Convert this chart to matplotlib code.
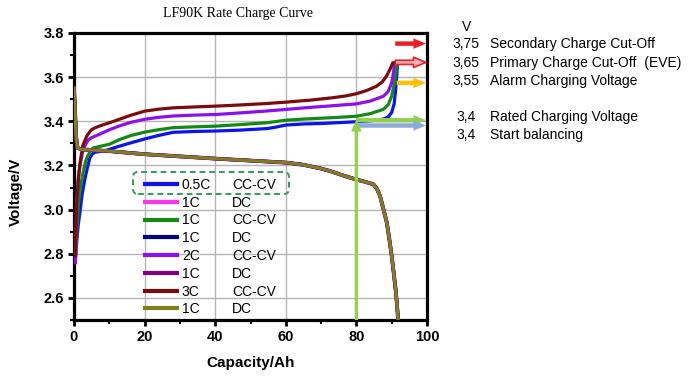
import matplotlib
matplotlib.use("Agg")
import matplotlib.pyplot as plt
from matplotlib.patches import FancyBboxPatch
from matplotlib.transforms import IdentityTransform

plt.rcParams['font.family'] = ['Liberation Sans', 'DejaVu Sans']

# charge curves (CC-CV)
cap_05c = [0.5, 0.8, 1.2, 1.7, 2.3, 3.1, 3.8, 4.5, 5.2, 5.9, 7, 9, 11, 13, 16, 20, 24, 28, 34, 40,
           47, 54.6, 57, 60, 65, 70, 75, 80, 84, 87.6, 89, 90, 90.7, 91.1, 91.4, 91.7, 92.2]
v_05c = [2.79, 2.86, 2.93, 2.99, 3.07, 3.14, 3.19, 3.235, 3.252, 3.26, 3.262, 3.268, 3.278, 3.288,
         3.302, 3.32, 3.336, 3.35, 3.354, 3.356, 3.36, 3.367, 3.373, 3.383, 3.388, 3.39, 3.394,
         3.398, 3.402, 3.41, 3.42, 3.44, 3.48, 3.54, 3.6, 3.665, 3.665]

cap_1c = [0.5, 0.8, 1.2, 1.8, 2.6, 3.3, 4.1, 4.8, 5.5, 7, 10, 13, 16, 20, 24, 28, 34, 40, 47, 55,
          60, 65, 70, 75, 80, 84, 87.6, 89, 90, 90.6, 91, 91.3, 91.6, 92.2]
v_1c = [2.8, 2.9, 3.02, 3.1, 3.17, 3.22, 3.25, 3.27, 3.28, 3.285, 3.296, 3.318, 3.335, 3.351, 3.362,
        3.371, 3.375, 3.378, 3.385, 3.394, 3.405, 3.41, 3.414, 3.418, 3.423, 3.435, 3.454, 3.475,
        3.514, 3.56, 3.6, 3.635, 3.665, 3.665]

cap_2c = [0.4, 0.75, 1.2, 1.7, 2.4, 3.1, 4.0, 5.0, 7, 10.2, 13, 16, 20, 24, 28, 34, 40.4, 47, 54,
          60.2, 66, 72, 80, 84, 87.7, 89, 90, 90.5, 90.8, 91.5]
v_2c = [2.76, 3.05, 3.14, 3.2, 3.26, 3.29, 3.315, 3.326, 3.34, 3.363, 3.38, 3.395, 3.409, 3.418,
        3.424, 3.428, 3.431, 3.438, 3.446, 3.454, 3.462, 3.469, 3.479, 3.492, 3.514, 3.535, 3.574,
        3.62, 3.665, 3.665]

cap_3c = [0.3, 0.75, 1.2, 1.7, 2.5, 3.6, 4.8, 6.0, 8, 10.2, 13, 16, 20, 24, 28.1, 34, 40.4, 47, 54,
          60.2, 67, 73.4, 77, 80, 83, 85.7, 87.3, 88.5, 89.5, 90.3, 91.2]
v_3c = [2.79, 3.02, 3.13, 3.21, 3.29, 3.333, 3.36, 3.371, 3.383, 3.394, 3.41, 3.427, 3.446, 3.455,
        3.461, 3.465, 3.469, 3.474, 3.48, 3.487, 3.496, 3.507, 3.515, 3.525, 3.54, 3.559, 3.578,
        3.604, 3.635, 3.665, 3.665]

# discharge (1C DC), all DC curves overlap
cap_dc = [0, 0.3, 0.6, 1.0, 2, 5, 10, 15, 20, 30, 40, 50, 60, 65, 70, 72.5, 76, 79.6, 82, 84.8,
          85.8, 86.7, 87.7, 88.6, 89.3, 90, 90.6, 91.1, 91.5, 91.8]
v_dc = [3.55, 3.45, 3.33, 3.28, 3.273, 3.27, 3.265, 3.258, 3.251, 3.241, 3.231, 3.222, 3.213,
        3.203, 3.186, 3.175, 3.156, 3.138, 3.128, 3.115, 3.095, 3.062, 3.0, 2.942, 2.87, 2.79,
        2.71, 2.64, 2.57, 2.505]

legend_rates = ['0.5C', '1C', '1C', '1C', '2C', '1C', '3C', '1C']
legend_modes = ['CC-CV', 'DC', 'CC-CV', 'DC', 'CC-CV', 'DC', 'CC-CV', 'DC']
legend_colors = ['#0a14f0', '#ff33ee', '#138a13', '#000080', '#8a10f0', '#800080', '#7a0c0c', '#80801a']

# reference levels on the right
level_values = ['3,75', '3,65', '3,55', '3,4', '3,4']
level_names = ['Secondary Charge Cut-Off', 'Primary Charge Cut-Off  (EVE)', 'Alarm Charging Voltage',
               'Rated Charging Voltage', 'Start balancing']
level_v = [3.752, 3.667, 3.574, 3.405, 3.381]
level_x0 = [91, 91, 91.4, 80, 80]

fig = plt.figure(figsize=(6.9, 3.78), dpi=100)
ax = fig.add_axes([74 / 690, 1 - 320 / 378, 353 / 690, 287 / 378])

lw = 2.3
charge = {0: (cap_05c, v_05c), 2: (cap_1c, v_1c), 4: (cap_2c, v_2c), 6: (cap_3c, v_3c)}
handles = [None] * 8
for i in [0, 2, 4, 6]:
    handles[i], = ax.plot(*charge[i], color=legend_colors[i], lw=lw, zorder=3)
for i, extra in zip([1, 3, 5, 7], [0.5, 0.3, 0.15, 0]):
    handles[i], = ax.plot(cap_dc, v_dc, color=legend_colors[i], lw=lw + extra, zorder=4)

ax.set_xlim(0, 100)
ax.set_ylim(2.5, 3.8)
ax.set_xticks([0, 20, 40, 60, 80, 100])
ax.set_xticks([10, 30, 50, 70, 90], minor=True)
ax.set_yticks([2.6, 2.8, 3.0, 3.2, 3.4, 3.6, 3.8])
ax.set_yticks([2.5, 2.7, 2.9, 3.1, 3.3, 3.5, 3.7], minor=True)
ax.grid(True, which='major', color='#b4b4b4', lw=1)
ax.set_axisbelow(True)
for s in ax.spines.values():
    s.set_linewidth(2.3)
ax.tick_params(which='major', direction='out', length=4, width=2, labelsize=10.5, pad=3)
ax.tick_params(which='minor', direction='out', length=3, width=1.5)
for lab in ax.get_xticklabels() + ax.get_yticklabels():
    lab.set_fontweight('bold')

ax.set_xlabel('Capacity/Ah', fontsize=11, fontweight='bold')
ax.set_ylabel('Voltage/V', fontsize=11, fontweight='bold')
ax.xaxis.set_label_coords(0.5, -0.125)
ax.yaxis.set_label_coords(-0.145, 0.446)

# arrows
arrow_colors = ['#ee1c25', '#e8202a', '#ffc000', '#92d050', '#8eaadb']
for k in range(5):
    if k == 1:
        style = dict(arrowstyle='simple,head_length=0.9,head_width=0.75,tail_width=0.3',
                     fc='#f6b0b0', ec=arrow_colors[k], lw=1.2, mutation_scale=10)
    else:
        style = dict(arrowstyle='simple,head_length=0.9,head_width=0.75,tail_width=0.32',
                     fc=arrow_colors[k], ec='none', lw=0, mutation_scale=10)
    ax.annotate('', xy=(99.7, level_v[k]), xytext=(level_x0[k], level_v[k]),
                arrowprops=dict(shrinkA=0, shrinkB=0, **style), zorder=5, annotation_clip=False)
ax.annotate('', xy=(80, 3.41), xytext=(80, 2.5),
            arrowprops=dict(arrowstyle='simple,head_length=0.9,head_width=0.75,tail_width=0.24',
                            fc='#92d050', ec='none', lw=0, mutation_scale=10,
                            shrinkA=0, shrinkB=0), zorder=5)

# legend
leg = ax.legend(handles, legend_rates, loc='upper left', bbox_to_anchor=(145 / 690, 1 - 178 / 378),
                bbox_transform=fig.transFigure, frameon=False, fontsize=10, handlelength=2.3,
                handletextpad=0.35, labelspacing=0.27, borderpad=0, borderaxespad=0)
for h in leg.legend_handles:
    h.set_linewidth(3)
fig.canvas.draw()
for t, mode in zip(leg.get_texts(), legend_modes):
    bb = t.get_window_extent()
    y = (bb.y0 + bb.y1) / 2 / fig.bbox.height
    fig.text(232 / 690, y, mode, fontsize=10, va='center', ha='left')

box = FancyBboxPatch((133, 378 - 194), 156, 22, boxstyle='round,pad=0,rounding_size=5',
                     transform=IdentityTransform(), fill=False, ec='#2e9e55', lw=1.4,
                     ls=(0, (3, 2)), zorder=6)
fig.patches.append(box)

fig.text(238 / 690, 1 - 13 / 378, 'LF90K Rate Charge Curve', family='Liberation Serif',
         fontsize=10, ha='center', va='center')

fig.text(467 / 690, 1 - 27 / 378, 'V', fontsize=10, ha='center', va='center')
rows_y = [44, 62.7, 80.7, 117.3, 135]
for val, name, yy in zip(level_values, level_names, rows_y):
    fig.text(466 / 690, 1 - yy / 378, val, fontsize=10, ha='center', va='center')
    fig.text(490 / 690, 1 - yy / 378, name, fontsize=10, ha='left', va='center')

fig.savefig('out.png', dpi=100)
